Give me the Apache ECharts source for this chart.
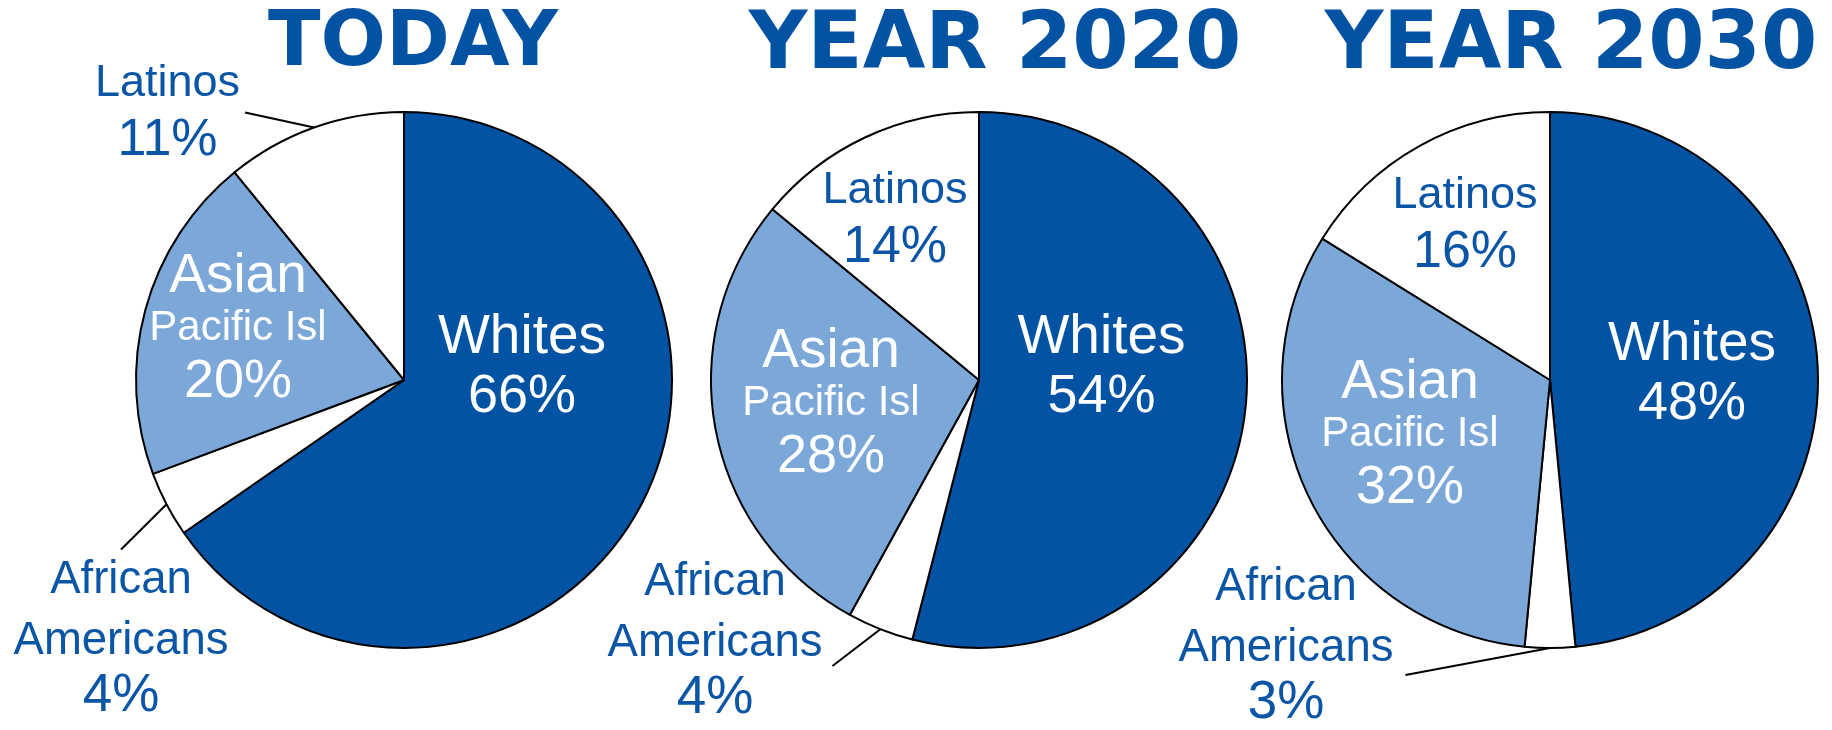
<!DOCTYPE html>
<html>
<head>
<meta charset="utf-8">
<script src="https://cdn.jsdelivr.net/npm/echarts@6/dist/echarts.min.js"></script>
<style>
html,body{margin:0;padding:0;background:#ffffff;}
#chart{width:1832px;height:730px;}
</style>
</head>
<body>
<div id="chart"></div>
<script>
// ---- data ----
const titles = ['TODAY', 'YEAR 2020', 'YEAR 2030'];
const categories = ['Whites', 'African Americans', 'Asian Pacific Isl', 'Latinos'];
const categoryLines = [['Whites'], ['African', 'Americans'], ['Asian', 'Pacific Isl'], ['Latinos']];
const valuesToday = [66, 4, 20, 11];
const values2020 = [54, 4, 28, 14];
const values2030 = [48, 3, 32, 16];

// ---- layout / style ----
const allValues = [valuesToday, values2020, values2030];
const pieCenters = [[404, 380], [979, 380], [1550, 380]];
const pieRadius = 268;
const titleX = [413, 995, 1571];
const titleSize = [77, 81, 81];
// text-block centre, relative to the pie centre
const labelOffsets = [
  [[118, -12], [-283, 255], [-166, -49], [-236.5, -267.5]],
  [[122.5, -12], [-264, 257], [-148, 26], [-84, -160]],
  [[142, -5], [-264, 262], [-140, 57], [-85, -155]]
];
// label padding [top, right, bottom, left] (sets where leader lines meet the text)
const labelPadding = [
  [[0, 0, 0, 0], [0, 0, 0, 0], [0, 0, 0, 0], [0, 5, 0, 0]],
  [[0, 0, 0, 0], [0, 10, 58, 0], [0, 0, 0, 0], [0, 0, 0, 0]],
  [[0, 0, 0, 0], [0, 12, 66, 0], [0, 0, 0, 0], [0, 0, 0, 0]]
];
const outsideLabel = [
  [false, true, false, true],
  [false, true, false, false],
  [false, true, false, false]
];
const sliceColors = ['#0353a4', '#ffffff', '#7ba7d9', '#ffffff'];
const labelColors = ['#ffffff', '#0a55a6', '#ffffff', '#0a55a6'];
const FONT = "'Liberation Sans', Arial, sans-serif";
const TITLE_FONT = "'DejaVu Sans', 'Liberation Sans', sans-serif";

const rich = {
  n: { fontSize: 55, lineHeight: 58, fontFamily: FONT },
  p: { fontSize: 54, lineHeight: 61, fontFamily: FONT },
  a: { fontSize: 55, lineHeight: 56, fontFamily: FONT },
  s: { fontSize: 42, lineHeight: 46, fontFamily: FONT },
  b: { fontSize: 54, lineHeight: 62, fontFamily: FONT },
  m: { fontSize: 45.5, lineHeight: 61, fontFamily: FONT },
  q: { fontSize: 53, lineHeight: 49, fontFamily: FONT },
  l: { fontSize: 45, lineHeight: 56, fontFamily: FONT },
  r: { fontSize: 52, lineHeight: 58, fontFamily: FONT }
};
const lineStyleKeys = [['n', 'p'], ['m', 'm', 'q'], ['a', 's', 'b'], ['l', 'r']];

function formatLabel(p) {
  const k = p.dataIndex;
  const keys = lineStyleKeys[k];
  const parts = categoryLines[k].map((t, j) => '{' + keys[j] + '|' + t + '}');
  parts.push('{' + keys[keys.length - 1] + '|' + p.value + '%}');
  return parts.join('\n');
}

const series = allValues.map((vals, i) => {
  const c = pieCenters[i];
  return {
    type: 'pie',
    center: c,
    radius: pieRadius,
    startAngle: 90,
    clockwise: true,
    avoidLabelOverlap: false,
    silent: true,
    animation: false,
    itemStyle: { borderColor: '#000000', borderWidth: 2 },
    label: {
      show: true,
      position: 'inside',
      fontFamily: FONT,
      formatter: formatLabel,
      rich: rich
    },
    labelLine: { show: false, length: 10, length2: 0, lineStyle: { color: '#000000', width: 2 } },
    labelLayout: function (params) {
      const o = labelOffsets[i][params.dataIndex];
      const pd = labelPadding[i][params.dataIndex];
      return {
        x: c[0] + o[0] + (pd[1] - pd[3]) / 2,
        y: c[1] + o[1] + (pd[2] - pd[0]) / 2,
        align: 'center',
        verticalAlign: 'middle'
      };
    },
    data: vals.map((v, k) => ({
      name: categories[k],
      value: v,
      itemStyle: { color: sliceColors[k] },
      label: {
        position: outsideLabel[i][k] ? 'outside' : 'inside',
        color: labelColors[k],
        padding: labelPadding[i][k],
        backgroundColor: 'rgba(255,255,255,0)'
      },
      labelLine: { show: outsideLabel[i][k] }
    }))
  };
});

const chart = echarts.init(document.getElementById('chart'), null, { renderer: 'canvas' });
chart.setOption({
  backgroundColor: '#ffffff',
  animation: false,
  title: titles.map((t, i) => ({
    text: t,
    left: titleX[i],
    top: 6,
    padding: 0,
    textAlign: 'center',
    textStyle: { fontSize: titleSize[i], fontWeight: 'bold', color: '#0352a3', fontFamily: TITLE_FONT }
  })),
  series: series
});
</script>
</body>
</html>
